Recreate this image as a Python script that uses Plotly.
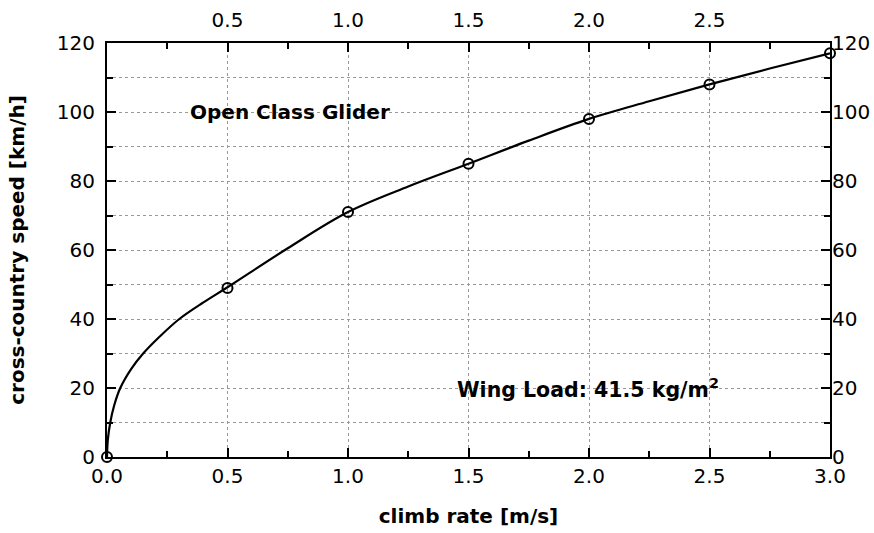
import plotly.graph_objects as go

# measured points (open circles)
pt_x = [0.0, 0.5, 1.0, 1.5, 2.0, 2.5, 3.0]
pt_y = [0, 49, 71, 85, 98, 108, 117]

# curve
curve_x = [0.0, 0.0035, 0.0135, 0.03, 0.055, 0.1, 0.15, 0.22, 0.30, 0.4, 0.5, 0.75,
           1.0, 1.25, 1.5, 1.75, 2.0, 2.25, 2.5, 2.75, 3.0]
curve_y = [0, 5, 10, 15, 20, 25.5, 30, 35, 40, 44.8, 49.2, 60.5,
           71, 78.4, 85, 91.7, 98, 103.1, 108, 112.6, 117]

bottom_ticks = [0.0, 0.5, 1.0, 1.5, 2.0, 2.5, 3.0]
bottom_labels = ["0.0", "0.5", "1.0", "1.5", "2.0", "2.5", "3.0"]
top_ticks = [0.5, 1.0, 1.5, 2.0, 2.5]
top_labels = ["0.5", "1.0", "1.5", "2.0", "2.5"]
minor_x = [0.25, 0.75, 1.25, 1.75, 2.25, 2.75]
y_ticks = [0, 20, 40, 60, 80, 100, 120]

FONT = "DejaVu Sans, Liberation Sans, Arial, sans-serif"

fig = go.Figure()
fig.add_trace(go.Scatter(x=curve_x, y=curve_y, mode="lines",
                         line=dict(color="black", width=2.2, shape="spline", smoothing=1.0),
                         hoverinfo="skip", showlegend=False))
fig.add_trace(go.Scatter(x=pt_x, y=pt_y, mode="markers",
                         marker=dict(symbol="circle-open", size=10, color="black",
                                     line=dict(width=2, color="black")),
                         showlegend=False, cliponaxis=False))
# invisible trace for secondary axes
fig.add_trace(go.Scatter(x=[0, 3], y=[0, 120], xaxis="x2", yaxis="y2", mode="markers",
                         marker=dict(opacity=0), hoverinfo="skip", showlegend=False))

def axis_common():
    return dict(showline=True, linecolor="black", linewidth=2, ticks="inside",
                tickcolor="black", tickwidth=2, ticklen=9, zeroline=False, automargin=False,
                tickfont=dict(family=FONT, size=20, color="black"))

GRID = dict(gridcolor="#999", griddash="dot", gridwidth=1)

fig.update_layout(
    width=874, height=533,
    margin=dict(l=107, r=44, t=43, b=76),
    paper_bgcolor="white", plot_bgcolor="white",
    xaxis=dict(range=[0, 3], tickvals=bottom_ticks, ticktext=bottom_labels,
               showgrid=True, **GRID,
               minor=dict(tickvals=minor_x, ticks="inside",
                          ticklen=6, tickwidth=2, tickcolor="black", showgrid=False),
               title=dict(text="<b>climb rate [m/s]</b>", font=dict(family=FONT, size=20, color="black"),
                          standoff=22),
               ticklabelstandoff=0,
               **axis_common()),
    yaxis=dict(range=[0, 120], tickvals=y_ticks,
               showgrid=True, **GRID,
               minor=dict(dtick=10, ticks="inside", ticklen=6, tickwidth=2, tickcolor="black",
                          showgrid=True, **GRID),
               title=dict(text="<b>cross-country speed [km/h]</b>", font=dict(family=FONT, size=20, color="black"),
                          standoff=27),
               ticklabelstandoff=6,
               **axis_common()),
    xaxis2=dict(range=[0, 3], overlaying="x", side="top", tickvals=top_ticks, ticktext=top_labels,
                showgrid=False, ticklabelstandoff=6,
                minor=dict(tickvals=minor_x, ticks="inside",
                           ticklen=6, tickwidth=2, tickcolor="black"),
                **axis_common()),
    yaxis2=dict(range=[0, 120], overlaying="y", side="right", tickvals=y_ticks,
                showgrid=False, ticklabelstandoff=-4,
                minor=dict(dtick=10, ticks="inside", ticklen=6, tickwidth=2, tickcolor="black"),
                **axis_common()),
    annotations=[
        dict(x=0.335, y=100, xref="x", yref="y", text="<b>Open Class Glider</b>", showarrow=False,
             xanchor="left", yanchor="middle", font=dict(family=FONT, size=20, color="black")),
        dict(x=1.445, y=20, xref="x", yref="y", text="<b>Wing Load: 41.5 kg/m<sup>2</sup></b>",
             showarrow=False, xanchor="left", yanchor="middle",
             font=dict(family=FONT, size=20.5, color="black")),
    ],
)

fig.write_html("out.html", config={"displayModeBar": False},
               post_script="document.body.style.margin='0';")
